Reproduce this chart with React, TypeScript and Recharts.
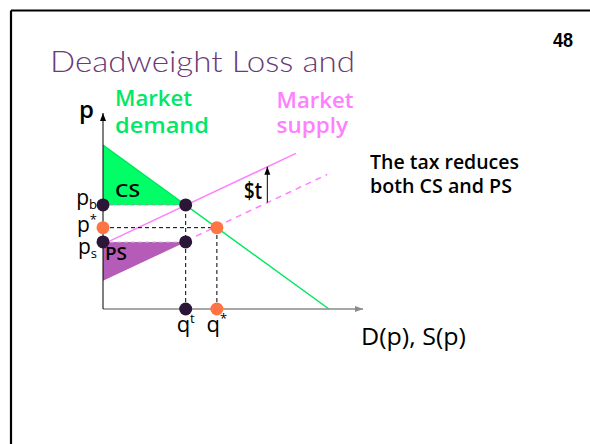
import React from 'react';
import {
  ComposedChart,
  XAxis,
  YAxis,
  Line,
  Area,
  Scatter,
  ReferenceLine,
  ReferenceDot
} from 'recharts';

const FONT = '"Open Sans", "DejaVu Sans", Verdana, sans-serif';

// curves (quantity, price)
const demandQ = [0, 8.69];
const demandP = [8.36, 0];
const taxSupplyQ = [0.23, 7.42];
const taxSupplyP = [3.45, 7.94];
const supplyQ = [3.58, 8.62];
const supplyP = [3.72, 6.86];

// price levels p_b, p*, p_s and quantities q^t, q*
const priceTicks = [5.31, 4.15, 3.42];
const priceMarks = ['b', '*', 's'];
const qtyTicks = [3.18, 4.38];
const qtyMarks = ['t', '*'];

// surplus triangles
const surplusQ = [0, 3.18];
const csTop = [8.36, 5.31];
const psLow = [1.44, 3.42];

// the tax wedge arrow
const taxQ = 6.32;
const taxFromP = 5.43;
const taxToP = 7.26;

const [pB, pStar, pS] = priceTicks;
const [qT, qStar] = qtyTicks;

const pts = (qs: number[], ps: number[]) => qs.map((q, i) => ({ q, p: ps[i] }));
const demand = pts(demandQ, demandP);
const taxSupply = pts(taxSupplyQ, taxSupplyP);
const supply = pts(supplyQ, supplyP);
const csData = surplusQ.map((q, i) => ({ q, band: [pB, csTop[i]] }));
const psData = surplusQ.map((q, i) => ({ q, band: [psLow[i], pS] }));
const darkDots = [
  { q: 0, p: pB },
  { q: qT, p: pB },
  { q: 0, p: pS },
  { q: qT, p: pS },
  { q: qT, p: 0 }
];
const orangeDots = [
  { q: 0, p: pStar },
  { q: qStar, p: pStar },
  { q: qStar, p: 0 }
];

const priceDy = [0, 4.5, 12];

const PriceTick = (props: any) => {
  const { x, y, payload } = props;
  const i = priceTicks.indexOf(payload.value);
  if (i < 0) return null;
  return (
    <text x={x} y={y + priceDy[i]} textAnchor="end" fontFamily={FONT} fontSize={21} fill="#000">
      p
      <tspan fontSize={13} dy={i === 1 ? -8 : 4}>{priceMarks[i]}</tspan>
    </text>
  );
};

const QtyTick = (props: any) => {
  const { x, y, payload } = props;
  const i = qtyTicks.indexOf(payload.value);
  if (i < 0) return null;
  return (
    <text x={x} y={y + 23} textAnchor="middle" fontFamily={FONT} fontSize={22} fill="#000">
      q
      <tspan fontSize={13} dy={-9}>{qtyMarks[i]}</tspan>
    </text>
  );
};

const dot = (fill: string) => (props: any) => (
  <circle cx={props.cx} cy={props.cy} r={6.5} fill={fill} />
);

const arrowUp = (fill: string) => (props: any) => (
  <path d={`M${props.cx},${props.cy} l-3,8 l6,0 z`} fill={fill} />
);
const arrowRight = (fill: string) => (props: any) => (
  <path d={`M${props.cx},${props.cy} l-8,-3 l0,6 z`} fill={fill} />
);

export default function App() {
  return (
    <div style={{ position: 'absolute', left: 0, top: 0, width: 590, height: 444, background: '#fff', overflow: 'hidden' }}>
      <style>{'html,body{margin:0;overflow:hidden}'}</style>
      <ComposedChart width={590} height={444} margin={{ top: 113, right: 227, bottom: 105, left: 43 }}>
        <XAxis
          dataKey="q"
          type="number"
          domain={[0, 10]}
          ticks={qtyTicks}
          interval={0}
          tickLine={false}
          tickSize={0}
          tickMargin={0}
          tick={<QtyTick />}
          axisLine={{ stroke: '#8a8a8a', strokeWidth: 1.5 }}
          height={30}
        />
        <YAxis
          dataKey="p"
          type="number"
          domain={[0, 10]}
          ticks={priceTicks}
          interval={0}
          tickLine={false}
          tickSize={0}
          tickMargin={6}
          tick={<PriceTick />}
          axisLine={{ stroke: '#000', strokeWidth: 1 }}
          width={60}
        />
        <Area data={csData} dataKey="band" type="linear" stroke="none" fill="#00ff66" fillOpacity={1} isAnimationActive={false} />
        <Area data={psData} dataKey="band" type="linear" stroke="none" fill="#b45cb8" fillOpacity={1} isAnimationActive={false} />
        <Line data={demand} dataKey="p" type="linear" stroke="#00e860" strokeWidth={1.5} dot={false} isAnimationActive={false} />
        <Line data={taxSupply} dataKey="p" type="linear" stroke="#ff80ff" strokeWidth={1.5} dot={false} isAnimationActive={false} />
        <Line data={supply} dataKey="p" type="linear" stroke="#ff80ff" strokeWidth={1.5} strokeDasharray="6 5" dot={false} isAnimationActive={false} />
        <ReferenceLine segment={[{ x: 0, y: pB }, { x: qT, y: pB }]} stroke="#999" strokeDasharray="4 3" />
        <ReferenceLine segment={[{ x: 0, y: pS }, { x: qT, y: pS }]} stroke="#ccc" strokeDasharray="4 3" />
        <ReferenceLine segment={[{ x: 0, y: pStar }, { x: qStar, y: pStar }]} stroke="#000" strokeDasharray="4 3" />
        <ReferenceLine segment={[{ x: qT, y: 0 }, { x: qT, y: pB }]} stroke="#000" strokeDasharray="4 3" />
        <ReferenceLine segment={[{ x: qStar, y: 0 }, { x: qStar, y: pStar }]} stroke="#000" strokeDasharray="4 3" />
        <ReferenceLine segment={[{ x: taxQ, y: taxFromP }, { x: taxQ, y: taxToP }]} stroke="#000" />
        <ReferenceDot x={taxQ} y={taxToP} ifOverflow="visible" shape={arrowUp('#000')} />
        <ReferenceDot x={0} y={10} ifOverflow="visible" shape={arrowUp('#000')} />
        <ReferenceDot x={10} y={0} ifOverflow="visible" shape={arrowRight('#8a8a8a')} />
        <Scatter data={darkDots} dataKey="p" shape={dot('#2b1638')} isAnimationActive={false} />
        <Scatter data={orangeDots} dataKey="p" shape={dot('#ff7445')} isAnimationActive={false} />
      </ComposedChart>
      <svg width={590} height={444} style={{ position: 'absolute', left: 0, top: 0, pointerEvents: 'none' }}>
        <line x1={11} y1={10.5} x2={590} y2={10.5} stroke="#000" strokeWidth={2.2} />
        <line x1={11} y1={10.5} x2={11} y2={444} stroke="#000" strokeWidth={2.2} />
        <text x={553} y={46.5} fontFamily='"Liberation Sans Narrow", "Liberation Sans", sans-serif' fontWeight="bold" fontSize={20} textLength={20} lengthAdjust="spacingAndGlyphs">48</text>
        <text x={50} y={71.5} fontFamily='Lato, "DejaVu Sans", sans-serif' fontWeight={300} fontSize={29} fill="#6b3a78" textLength={305} lengthAdjust="spacingAndGlyphs">Deadweight Loss and</text>
        <text x={79} y={118} fontFamily={FONT} fontWeight={600} fontSize={24} fill="#000">p</text>
        <g fontFamily={FONT} fontWeight={600} fontSize={21} fill="#00e868">
          <text x={115} y={106} textLength={77} lengthAdjust="spacingAndGlyphs">Market</text>
          <text x={115} y={133.3} textLength={94} lengthAdjust="spacingAndGlyphs">demand</text>
        </g>
        <g fontFamily={FONT} fontWeight={600} fontSize={21} fill="#ff80ff">
          <text x={276.5} y={107.5} textLength={77} lengthAdjust="spacingAndGlyphs">Market</text>
          <text x={276.5} y={133} textLength={71.5} lengthAdjust="spacingAndGlyphs">supply</text>
        </g>
        <text x={244} y={199} fontFamily={FONT} fontWeight={600} fontSize={23} fill="#000" textLength={18} lengthAdjust="spacingAndGlyphs">$t</text>
        <text x={115} y={197.3} fontFamily={FONT} fontWeight={600} fontSize={18} fill="#000" textLength={25} lengthAdjust="spacingAndGlyphs">CS</text>
        <text x={105} y={260} fontFamily={FONT} fontWeight={600} fontSize={18} fill="#000" textLength={22} lengthAdjust="spacingAndGlyphs">PS</text>
        <g fontFamily={FONT} fontWeight={600} fontSize={20} fill="#000">
          <text x={370} y={168.5} textLength={149} lengthAdjust="spacingAndGlyphs">The tax reduces</text>
          <text x={370} y={192.5} textLength={142} lengthAdjust="spacingAndGlyphs">both CS and PS</text>
        </g>
        <text x={361} y={345} fontFamily={FONT} fontSize={24} fill="#000" textLength={105} lengthAdjust="spacingAndGlyphs">D(p), S(p)</text>
      </svg>
    </div>
  );
}
